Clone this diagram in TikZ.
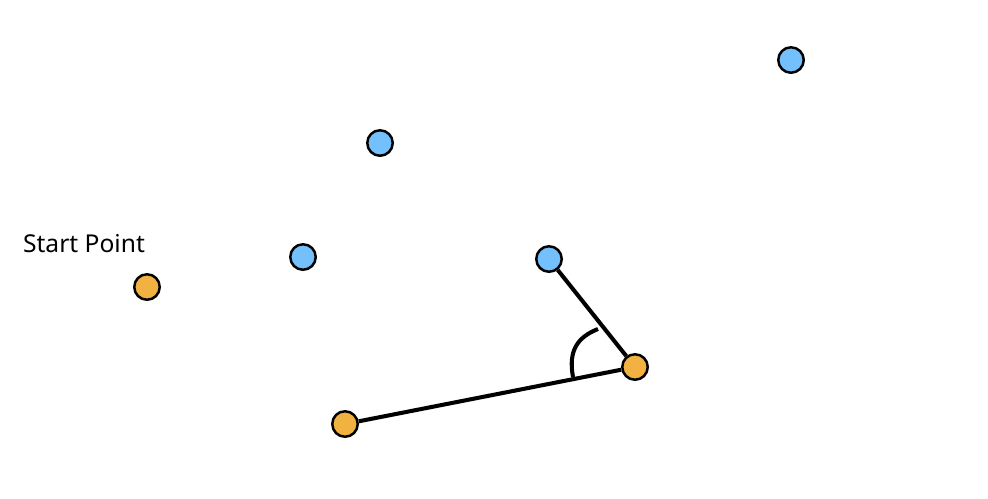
\documentclass[tikz,border=0pt]{standalone}
\usepackage{fontspec}
\setmainfont{Noto Sans}
\usepackage{xcolor}
\definecolor{ptorange}{RGB}{242,178,65}
\definecolor{ptblue}{RGB}{116,192,252}
\begin{document}
\begin{tikzpicture}[x=0.02cm,y=-0.02cm,
  pt/.style={circle,draw=black,line width=1.4pt,minimum size=0.51cm,inner sep=0pt},
  path/.style={line width=2.3pt}]
  % Canvas
  \useasboundingbox (0,0) rectangle (988,498);

  % Orange points
  \node[pt,fill=ptorange] (start) at (147,287) {};
  \node[pt,fill=ptorange] (low) at (345,424) {};
  \node[pt,fill=ptorange] (turn) at (635,367) {};

  % Blue points
  \node[pt,fill=ptblue] (b1) at (791,60) {};
  \node[pt,fill=ptblue] (b2) at (380,143) {};
  \node[pt,fill=ptblue] (b3) at (303,257) {};
  \node[pt,fill=ptblue] (b4) at (549,259) {};

  % Label
  \node[font=\fontsize{14}{17}\selectfont] (label) at (84,244) {Start Point};

  % Path segments
  \draw[path] (low) -- (turn);
  \draw[path] (turn) -- (b4);

  % Angle mark
  \draw[path] (573,377) .. controls (568,350) and (578,337) .. (598,329);
\end{tikzpicture}
\end{document}
